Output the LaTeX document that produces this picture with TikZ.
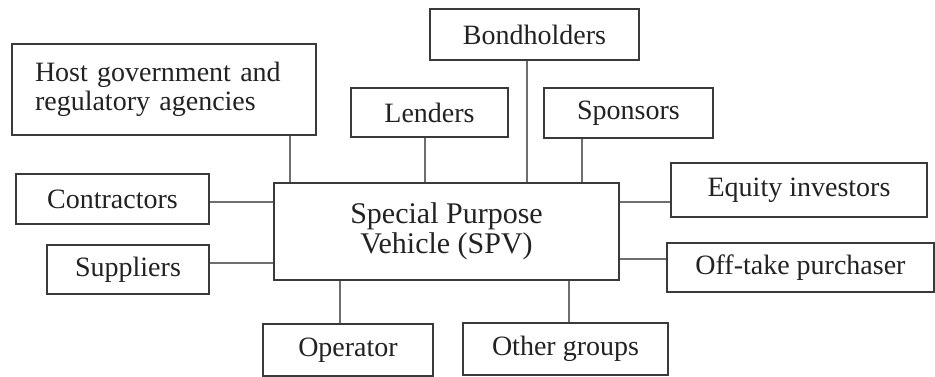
\documentclass[tikz,border=0pt]{standalone}
\usepackage{fontspec}
\setmainfont{Liberation Serif}
\definecolor{boxline}{HTML}{3A3A3A}
\definecolor{conn}{HTML}{6E6E6E}
\definecolor{txt}{HTML}{222222}
\begin{document}
\begin{tikzpicture}[x=1pt,y=-1pt,
  box/.style={draw=boxline,line width=2.2pt,fill=white,inner sep=0pt,text=txt,
    font=\fontsize{28}{29}\selectfont},
  link/.style={draw=conn,line width=2pt}]
\useasboundingbox (0,0) rectangle (935,377);
\node[box,minimum width=304pt,minimum height=91pt,align=left,text width=258pt] (host) at (164,89.5) {Host government and\\regulatory agencies};
\node[box,minimum width=209pt,minimum height=51pt] (bond) at (534.5,34.5) {Bondholders};
\node[box,minimum width=157pt,minimum height=49pt] (lend) at (429.5,112.5) {Lenders};
\node[box,minimum width=169pt,minimum height=50pt] (spon) at (628.5,113) {Sponsors};
\node[box,minimum width=193pt,minimum height=50pt] (cont) at (112.5,199) {Contractors};
\node[box,minimum width=345pt,minimum height=97pt,align=center,font=\fontsize{30}{30}\selectfont] (spv) at (446.5,231.5) {Special Purpose\\Vehicle (SPV)};
\node[box,minimum width=256pt,minimum height=54pt] (eq) at (799,190) {Equity investors};
\node[box,minimum width=162pt,minimum height=49pt] (supp) at (128,269.5) {Suppliers};
\node[box,minimum width=267pt,minimum height=49pt] (off) at (800.5,267.5) {Off-take purchaser};
\node[box,minimum width=170pt,minimum height=52pt] (oper) at (348,350) {Operator};
\node[box,minimum width=205pt,minimum height=52pt] (oth) at (565.5,349) {Other groups};
% connectors
\draw[link] ([xshift=-27pt]host.south east) coordinate (h1) -- (h1 |- spv.north);
\draw[link] ([xshift=-4.5pt]lend.south) coordinate (l1) -- (l1 |- spv.north);
\draw[link] ([xshift=-7.5pt]bond.south) coordinate (b1) -- (b1 |- spv.north);
\draw[link] ([xshift=-46.5pt]spon.south) coordinate (s1) -- (s1 |- spv.north);
\draw[link] ([yshift=-3pt]cont.east) coordinate (c1) -- (c1 -| spv.west);
\draw[link] ([yshift=6.5pt]supp.east) coordinate (u1) -- (u1 -| spv.west);
\draw[link] ([yshift=-12pt]eq.west) coordinate (e1) -- (e1 -| spv.east);
\draw[link] ([yshift=8.5pt]off.west) coordinate (o1) -- (o1 -| spv.east);
\draw[link] ([xshift=-8pt]oper.north) coordinate (p1) -- (p1 |- spv.south);
\draw[link] ([xshift=3.5pt]oth.north) coordinate (g1) -- (g1 |- spv.south);
\end{tikzpicture}
\end{document}
